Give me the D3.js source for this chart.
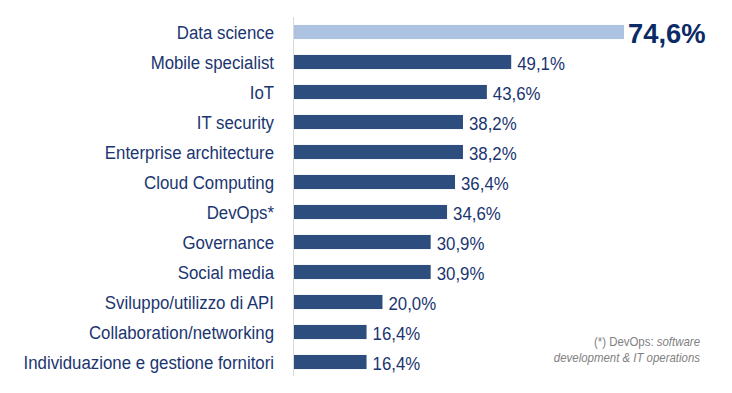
<!DOCTYPE html>
<html><head><meta charset="utf-8">
<script src="https://cdn.jsdelivr.net/npm/d3@7"></script>
<style>body{margin:0;background:#fff}svg{display:block}</style>
</head><body>
<svg id="c" width="732" height="393"></svg>
<script>
const categories = ["Data science","Mobile specialist","IoT","IT security","Enterprise architecture","Cloud Computing","DevOps*","Governance","Social media","Sviluppo/utilizzo di API","Collaboration/networking","Individuazione e gestione fornitori"];
const values = [74.6,49.1,43.6,38.2,38.2,36.4,34.6,30.9,30.9,20.0,16.4,16.4];
const valueLabels = ["74,6%","49,1%","43,6%","38,2%","38,2%","36,4%","34,6%","30,9%","30,9%","20,0%","16,4%","16,4%"];
const footnote = ["(*) DevOps: ", "software", "development & IT operations"];

const svg = d3.select("#c");
const x0 = 294;
const x = d3.scaleLinear().domain([0, 74.6]).range([x0, 624]);
const y = d3.scaleBand().domain(categories).range([17, 377]).paddingInner(0.53).paddingOuter(0.265);
const font = "'Liberation Sans', Arial, sans-serif";
const sx = 0.885;

svg.append("line").attr("x1", 293.5).attr("x2", 293.5).attr("y1", 17).attr("y2", 376)
  .attr("stroke", "#d9d9d9").attr("stroke-width", 1);

svg.selectAll("rect.bar").data(values).join("rect")
  .attr("x", x0).attr("y", (d,i) => y(categories[i]))
  .attr("width", d => x(d) - x0).attr("height", y.bandwidth())
  .attr("fill", (d,i) => i === 0 ? "#adc2e0" : "#2e4d7f");

svg.selectAll("text.cat").data(categories).join("text")
  .attr("transform", d => `translate(274,${y(d) + y.bandwidth()/2}) scale(${sx},1)`)
  .attr("dy", "0.35em")
  .attr("text-anchor", "end").attr("font-family", font).attr("font-size", 19)
  .attr("fill", "#1a3570").text(d => d);

svg.selectAll("text.val").data(values).join("text")
  .attr("transform", (d,i) => `translate(${x(d) + (i === 0 ? 4 : 6)},${y(categories[i]) + y.bandwidth()/2 + 1}) scale(${i === 0 ? 0.96 : sx},1)`)
  .attr("dy", "0.35em")
  .attr("font-family", font)
  .attr("font-size", (d,i) => i === 0 ? 28.5 : 19)
  .attr("font-weight", (d,i) => i === 0 ? "bold" : "normal")
  .attr("fill", (d,i) => i === 0 ? "#0c2a66" : "#1a3570")
  .text((d,i) => valueLabels[i]);

const fn = svg.append("g").attr("font-family", font).attr("font-size", 13).attr("fill", "#7f7f7f").attr("text-anchor", "end");
const t1 = fn.append("text").attr("transform", `translate(700,346) scale(0.88,1)`);
t1.append("tspan").text(footnote[0]);
t1.append("tspan").attr("font-style", "italic").text(footnote[1]);
fn.append("text").attr("transform", `translate(700,362) scale(0.88,1)`).attr("font-style", "italic").text(footnote[2]);
</script>
</body></html>
